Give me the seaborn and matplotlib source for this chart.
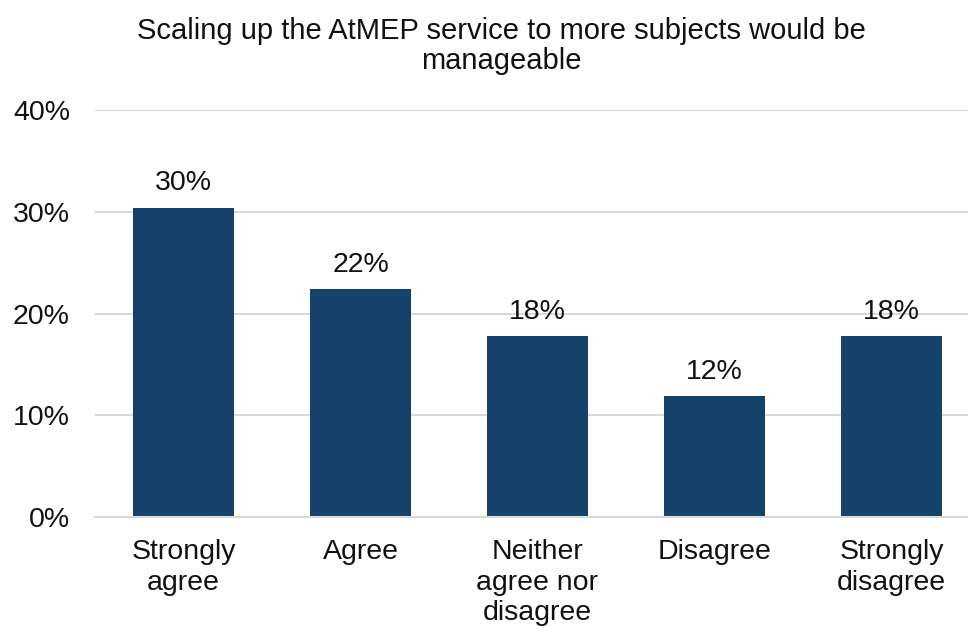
import numpy as np
import pandas as pd
import seaborn as sns
import matplotlib.pyplot as plt
from matplotlib.ticker import FuncFormatter

# ---- data ----
categories = ["Strongly\nagree", "Agree", "Neither\nagree nor\ndisagree", "Disagree", "Strongly\ndisagree"]
shares = [30.4, 22.4, 17.8, 11.9, 17.8]
labels = ["30%", "22%", "18%", "12%", "18%"]

df = pd.DataFrame({"response": categories, "share": shares})

sns.set_theme(style="whitegrid")
plt.rcParams["font.family"] = ["Liberation Sans", "DejaVu Sans"]

fig = plt.figure(figsize=(9.68, 6.32), dpi=100)
ax = fig.add_axes([95 / 968, 115 / 632, 885 / 968, 407 / 632])

sns.barplot(data=df, x="response", y="share", color="#14426B",
            width=0.57, saturation=1, linewidth=0, ax=ax)

for p, lab in zip(ax.patches, labels):
    ax.text(p.get_x() + p.get_width() / 2, p.get_height() + 1.1, lab,
            ha="center", va="bottom", fontsize=20.5, color="#111111")

ax.set_ylim(0, 40)
ax.set_yticks([0, 10, 20, 30, 40])
ax.yaxis.set_major_formatter(FuncFormatter(lambda v, _: f"{v:.0f}%"))
ax.grid(axis="y", color="#D9D9D9", linewidth=1.5)
ax.grid(axis="x", visible=False)
for s in ["top", "right", "left"]:
    ax.spines[s].set_visible(False)
ax.spines["bottom"].set_color("#D9D9D9")
ax.spines["bottom"].set_linewidth(1.5)
ax.tick_params(axis="both", labelsize=20.5, colors="#111111", length=0)
ax.tick_params(axis="x", pad=16)
ax.tick_params(axis="y", pad=18)
for t in ax.get_xticklabels():
    t.set_linespacing(1.22)
ax.set_xlabel("")
ax.set_ylabel("")

fig.text(501 / 968, 1 - 46 / 632,
         "Scaling up the AtMEP service to more subjects would be\nmanageable",
         ha="center", va="center", fontsize=21, color="#111111", linespacing=1.12)

fig.savefig("out.png", dpi=100, facecolor="white")
